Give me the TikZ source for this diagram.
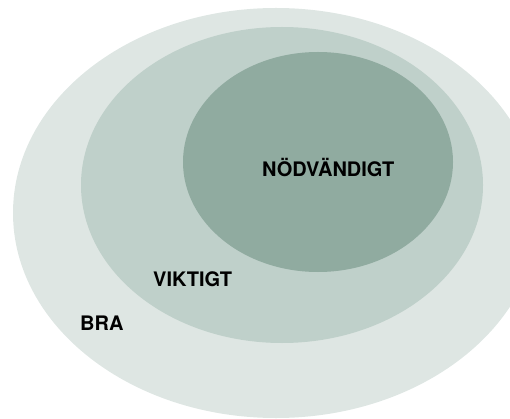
\documentclass[tikz,border=0pt]{standalone}
\usepackage{fontspec}
\setmainfont{TeX Gyre Heros}
\definecolor{bracol}{RGB}{222,230,227}
\definecolor{viktigcol}{RGB}{191,208,202}
\definecolor{nodvcol}{RGB}{144,171,160}
\begin{document}
\begin{tikzpicture}[x=1pt,y=-1pt,
    lvltext/.style={font=\bfseries\fontsize{20}{20}\selectfont, text=black, inner sep=0pt, anchor=base west}]
            \useasboundingbox (0,0) rectangle (510,419);
            \clip (0,0) rectangle (510,419);
            % level BRA
            \fill[bracol] (276,213) ellipse [x radius=263, y radius=205];
            \node[lvltext] (bra) at (80,330) {BRA};
            % level VIKTIGT
            \fill[viktigcol] (282,185) ellipse [x radius=201, y radius=158];
            \node[lvltext] (viktigt) at (153,286) {VIKTIGT};
            % level NÖDVÄNDIGT
            \fill[nodvcol] (318,162) ellipse [x radius=135, y radius=110];
            \node[lvltext] (nodvandigt) at (262,177) {NÖDVÄNDIGT};
        \end{tikzpicture}
\end{document}
